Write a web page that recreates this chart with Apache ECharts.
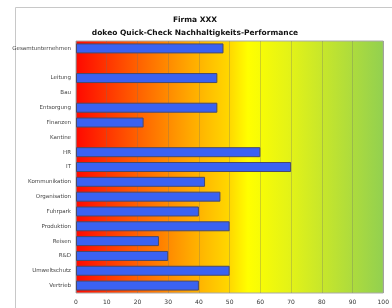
<!DOCTYPE html>
<html><head><meta charset="utf-8">
<script src="https://cdn.jsdelivr.net/npm/echarts@6/dist/echarts.min.js"></script>
<style>html,body{margin:0;padding:0;background:#fff}#c{width:392px;height:308px}</style>
</head><body><div id="c"></div>
<script>
const categories = ["Gesamtunternehmen","","Leitung","Bau","Entsorgung","Finanzen","Kantine","HR","IT","Kommunikation","Organisation","Fuhrpark","Produktion","Reisen","R&D","Umweltschutz","Vertrieb"];
const values = [48,null,46,null,46,22,null,60,70,42,47,40,50,27,30,50,40];
const xTicks = [0,10,20,30,40,50,60,70,80,90,100];
const titleLines = ["Firma XXX","dokeo Quick-Check Nachhaltigkeits-Performance"];

const chart = echarts.init(document.getElementById('c'), null, {renderer:'canvas'});
chart.setOption({
  animation:false,
  backgroundColor:'#fff',
  graphic:[{type:'rect',left:13,top:5,shape:{width:420,height:340},style:{fill:'none',stroke:'#c8c8c8',lineWidth:1},z:-10}],
  title:{text:titleLines.join('\n'),left:190,top:9,textAlign:'center',
    textStyle:{fontFamily:'DejaVu Sans',fontSize:7.5,fontWeight:'bold',color:'#111',lineHeight:13}},
  grid:{left:76,right:7,top:41,height:252,show:true,borderColor:'#aaa',borderWidth:1,
    backgroundColor:new echarts.graphic.LinearGradient(0,0,1,0,[
      {offset:0,color:'#ff0800'},{offset:0.2,color:'#ff6000'},{offset:0.38,color:'#ffac00'},
      {offset:0.5,color:'#ffd800'},{offset:0.56,color:'#ffff00'},{offset:0.7,color:'#e2f218'},
      {offset:1,color:'#92d050'}])},
  xAxis:{type:'value',min:0,max:100,interval:10,
    axisLine:{show:false},axisTick:{show:false},
    axisLabel:{fontFamily:'DejaVu Sans',fontSize:6,color:'#333',margin:6,
      formatter:v=>xTicks.includes(v)?String(v):''},
    splitLine:{show:true,lineStyle:{color:'rgba(110,110,110,0.3)',width:1}}},
  yAxis:{type:'category',data:categories,inverse:true,
    axisLine:{show:false},axisTick:{show:false},
    axisLabel:{fontFamily:'DejaVu Sans',fontSize:5.5,color:'#444',margin:5}},
  series:[{type:'bar',data:values,barWidth:10,
    itemStyle:{color:'#3a62f2',borderColor:'#4a4a6a',borderWidth:1}}]
});
</script></body></html>
